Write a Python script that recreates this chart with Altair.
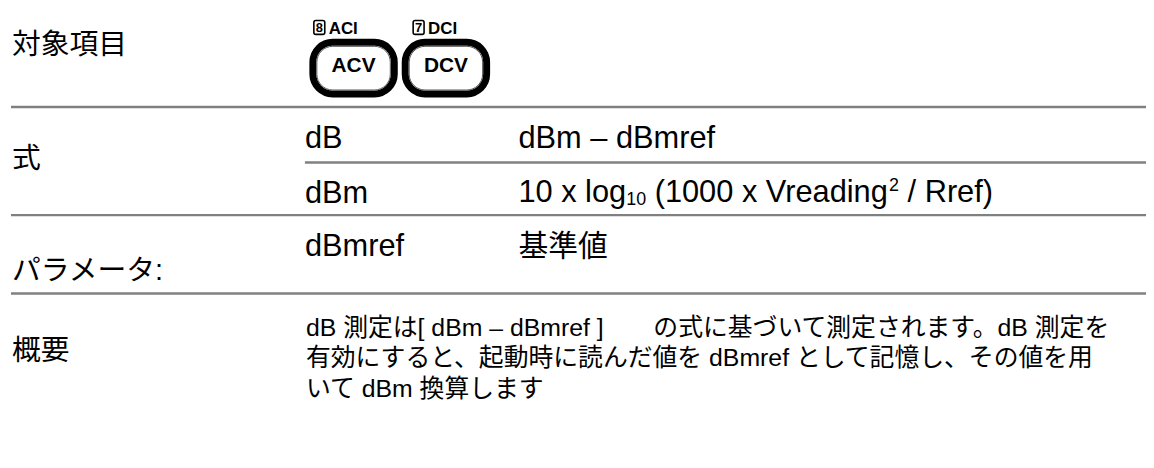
import altair as alt
import pandas as pd

# ---------------- content ----------------
row_labels = ["対象項目", "式", "パラメータ:", "概要"]
col2_terms = ["dB", "dBm", "dBmref"]
col3_texts = ["dBm – dBmref", "基準値"]
formula_parts = ["10 x log", "10", " (1000 x Vreading", "2", " / Rref)"]
formula_roles = ["main", "sub", "main", "sup", "main"]
overview_lines = [
    "dB 測定は[ dBm – dBmref ]　　の式に基づいて測定されます。dB 測定を",
    "有効にすると、起動時に読んだ値を dBmref として記憶し、その値を用",
    "いて dBm 換算します",
]
button_names = ["ACV", "DCV"]
button_keys = ["8", "7"]
button_alts = ["ACI", "DCI"]

# ---------------- layout (pixel positions in the 1154x468 page) ----------------
FONT = "Liberation Sans, Noto Sans CJK JP"
label_x = 12
label_size = 29
label_base = [53, 168, 280, 361]
col2_x = 307
col2_size = 31
col2_base = [147, 203, 256]
col3_x = 522
col3_base = [147, 256]
formula_base = 202
overview_x = 308
overview_size = 25
overview_base = [337, 367, 398]
rule_y = [106, 162, 215, 294]
rule_x0 = [11, 307, 11, 11]
rule_x1 = 1154
btn_x0 = [315, 408]
btn_w = 82
btn_y0, btn_y1 = 41, 93
btn_text_base = 71
key_x0 = [316, 416]
key_w = 11
key_y0, key_y1 = 19, 33

# Arial / Liberation Sans advance widths (per 1000 em) for the formula glyphs
ADV = {'1': 556, '0': 556, ' ': 278, 'x': 500, 'l': 222, 'o': 556, 'g': 556,
       '(': 333, 'V': 667, 'r': 333, 'e': 556, 'a': 556, 'd': 556, 'i': 222,
       'n': 556, '/': 278, 'R': 722, 'f': 278, ')': 333, '2': 556}


def text_width(s, size):
    return sum(ADV.get(c, 556) for c in s) / 1000 * size


X = alt.Scale(domain=[8, 1154], range=[0, 1146], nice=False, zero=False)
Y = alt.Scale(domain=[8, 460], range=[0, 452], nice=False, zero=False)

# ---------------- tables ----------------
rows = []
for t, b in zip(row_labels, label_base):
    rows.append(dict(text=t, x=label_x, y=b, size=label_size))
for t, b in zip(col2_terms, col2_base):
    rows.append(dict(text=t, x=col2_x, y=b, size=col2_size))
for t, b in zip(col3_texts, col3_base):
    rows.append(dict(text=t, x=col3_x, y=b, size=col2_size if t[0].isascii() else 30))
# formula: Vega trims whitespace, so leading spaces become an x offset
cx = col3_x
for part, role in zip(formula_parts, formula_roles):
    size = col2_size if role == "main" else 18
    dy = 0 if role == "main" else (3 if role == "sub" else -11)
    stripped = part.lstrip(" ")
    lead = text_width(part[: len(part) - len(stripped)], size)
    rows.append(dict(text=stripped, x=cx + lead, y=formula_base + dy, size=size))
    cx += text_width(part, size)
for t, b in zip(overview_lines, overview_base):
    rows.append(dict(text=t, x=overview_x, y=b, size=overview_size))
text_df = pd.DataFrame(rows)

rule_df = pd.DataFrame(dict(x=rule_x0, x2=[rule_x1] * len(rule_y), y=rule_y))

btn_df = pd.DataFrame(dict(
    name=button_names,
    x=btn_x0,
    x2=[v + btn_w for v in btn_x0],
    y=[btn_y0] * 2,
    y2=[btn_y1] * 2,
    cx=[v + btn_w / 2 for v in btn_x0],
    ty=[btn_text_base] * 2,
))

key_df = pd.DataFrame(dict(
    key=button_keys,
    alt_name=button_alts,
    x=key_x0,
    x2=[v + key_w for v in key_x0],
    y=[key_y0] * 2,
    y2=[key_y1] * 2,
    kx=[v + key_w / 2 for v in key_x0],
    ky=[key_y1 - 2.5] * 2,
    ax=[v + key_w + 4 for v in key_x0],
    ay=[key_y1] * 2,
))

# ---------------- layers ----------------
rules = alt.Chart(rule_df).mark_rule(color="#808080", strokeWidth=2.5).encode(
    x=alt.X("x:Q", scale=X, axis=None),
    x2="x2:Q",
    y=alt.Y("y:Q", scale=Y, axis=None),
)

texts = alt.Chart(text_df).mark_text(
    align="left", baseline="alphabetic", font=FONT, color="#000000"
).encode(
    x=alt.X("x:Q", scale=X, axis=None),
    y=alt.Y("y:Q", scale=Y, axis=None),
    text="text:N",
    size=alt.Size("size:Q", scale=None, legend=None),
)

btn_rects = alt.Chart(btn_df).mark_rect(
    cornerRadius=20, fill="white", stroke="black", strokeWidth=7
).encode(
    x=alt.X("x:Q", scale=X, axis=None), x2="x2:Q",
    y=alt.Y("y:Q", scale=Y, axis=None), y2="y2:Q",
)

btn_inner = alt.Chart(btn_df).mark_rect(
    cornerRadius=16, fill="white", stroke="#555555", strokeWidth=1
).encode(
    x=alt.X("xi:Q", scale=X, axis=None), x2="xi2:Q",
    y=alt.Y("yi:Q", scale=Y, axis=None), y2="yi2:Q",
).transform_calculate(
    xi="datum.x + 4", xi2="datum.x2 - 4", yi="datum.y + 4", yi2="datum.y2 - 4"
)

btn_text = alt.Chart(btn_df).mark_text(
    align="center", baseline="alphabetic", font="Liberation Sans",
    fontWeight="bold", fontSize=21, color="black"
).encode(
    x=alt.X("cx:Q", scale=X, axis=None),
    y=alt.Y("ty:Q", scale=Y, axis=None),
    text="name:N",
)

key_rects = alt.Chart(key_df).mark_rect(
    cornerRadius=2, fill="white", stroke="black", strokeWidth=1.6
).encode(
    x=alt.X("x:Q", scale=X, axis=None), x2="x2:Q",
    y=alt.Y("y:Q", scale=Y, axis=None), y2="y2:Q",
)

key_text = alt.Chart(key_df).mark_text(
    align="center", baseline="alphabetic", font="Liberation Sans",
    fontWeight="bold", fontSize=13, color="black"
).encode(
    x=alt.X("kx:Q", scale=X, axis=None),
    y=alt.Y("ky:Q", scale=Y, axis=None),
    text="key:N",
)

alt_text = alt.Chart(key_df).mark_text(
    align="left", baseline="alphabetic", font="Liberation Sans",
    fontWeight="bold", fontSize=17, color="black"
).encode(
    x=alt.X("ax:Q", scale=X, axis=None),
    y=alt.Y("ay:Q", scale=Y, axis=None),
    text="alt_name:N",
)

chart = alt.layer(
    rules, btn_rects, btn_inner, btn_text, key_rects, key_text, alt_text, texts
).properties(
    width=1146, height=452, padding=0, background="white",
    autosize=alt.AutoSizeParams(type="none"),
).configure_view(stroke=None)

chart.save("out.html", embed_options={"renderer": "svg", "actions": False})
